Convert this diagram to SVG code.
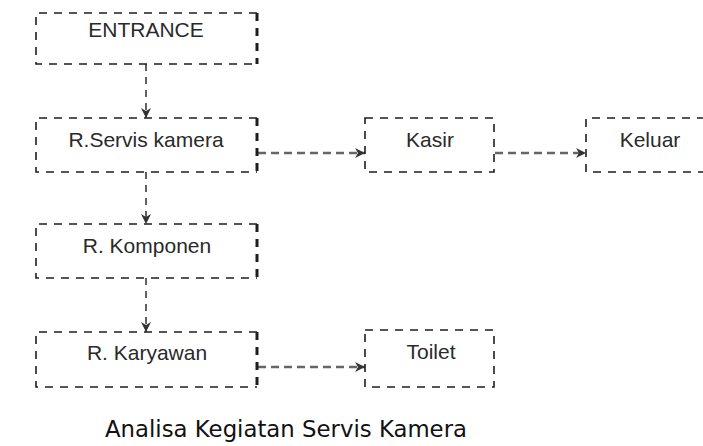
<svg xmlns="http://www.w3.org/2000/svg" width="703" height="446" viewBox="0 0 703 446">
  <style>
    .edge { fill: none; stroke: #1e1e1e; stroke-width: 1.6; stroke-dasharray: 8 7; }
    .edge-bold { fill: none; stroke: #1e1e1e; stroke-width: 3; stroke-dasharray: 8 7; }
    .label { font-family: "Liberation Sans", Arial, sans-serif; font-size: 21px; fill: #2a2a2a; text-anchor: middle; }
    .vlink { fill: none; stroke: #3a3a3a; stroke-width: 1.6; stroke-dasharray: 7 6; }
    .hlink { fill: none; stroke: #666; stroke-width: 2.6; stroke-dasharray: 8 5; }
    .caption { font-family: "DejaVu Sans", "Lucida Grande", sans-serif; font-size: 23px; fill: #111; }
  </style>
  <defs>
    <marker id="arrow" markerUnits="userSpaceOnUse" markerWidth="12" markerHeight="12" refX="10" refY="5" orient="auto">
      <path d="M0,0 L10,5 L0,10 L3,5 z" fill="#333"/>
    </marker>
  </defs>

  <rect width="703" height="446" fill="#fff"/>

  <!-- connectors -->
  <g id="connectors">
    <line class="vlink" x1="146" y1="64" x2="146" y2="118" marker-end="url(#arrow)"/>
    <line class="vlink" x1="146" y1="172" x2="146" y2="224" marker-end="url(#arrow)"/>
    <line class="vlink" x1="146" y1="278" x2="146" y2="332" marker-end="url(#arrow)"/>
    <line class="hlink" x1="258" y1="153" x2="365" y2="153" marker-end="url(#arrow)"/>
    <line class="hlink" x1="495" y1="153" x2="586" y2="153" marker-end="url(#arrow)"/>
    <line class="hlink" x1="258" y1="367" x2="365" y2="367" marker-end="url(#arrow)"/>
  </g>

  <!-- nodes -->
  <g id="entrance">
    <path class="edge" d="M257,13 H36 V64 H257"/>
    <line class="edge-bold" x1="257" y1="13" x2="257" y2="64"/>
    <text class="label" x="146" y="37">ENTRANCE</text>
  </g>

  <g id="servis-kamera">
    <path class="edge" d="M257,118 H36 V172 H257"/>
    <line class="edge-bold" x1="257" y1="118" x2="257" y2="172"/>
    <text class="label" x="146" y="147">R.Servis kamera</text>
  </g>

  <g id="kasir">
    <rect class="edge" x="365" y="118" width="129" height="54"/>
    <text class="label" x="430" y="147">Kasir</text>
  </g>

  <g id="keluar">
    <path class="edge" d="M720,118 H586 V172 H720"/>
    <text class="label" x="650" y="147">Keluar</text>
  </g>

  <g id="komponen">
    <path class="edge" d="M257,224 H36 V278 H257"/>
    <line class="edge-bold" x1="257" y1="224" x2="257" y2="278"/>
    <text class="label" x="147" y="253">R. Komponen</text>
  </g>

  <g id="karyawan">
    <path class="edge" d="M257,332 H36 V387 H257"/>
    <line class="edge-bold" x1="257" y1="332" x2="257" y2="387"/>
    <text class="label" x="147" y="360">R. Karyawan</text>
  </g>

  <g id="toilet">
    <rect class="edge" x="365" y="330" width="129" height="57"/>
    <text class="label" x="431" y="359">Toilet</text>
  </g>

  <text class="caption" x="105" y="437" textLength="362" lengthAdjust="spacingAndGlyphs">Analisa Kegiatan Servis Kamera</text>
</svg>
